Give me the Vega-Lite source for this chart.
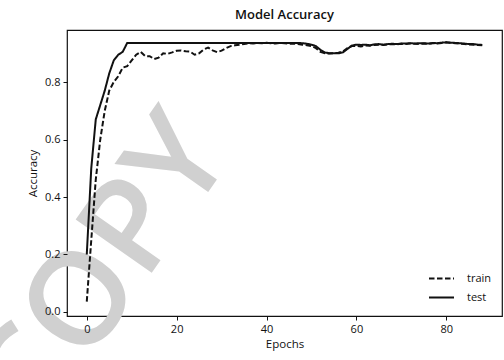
{
  "$schema": "https://vega.github.io/schema/vega-lite/v6.json",
  "autosize": "none",
  "width": 435,
  "height": 286,
  "padding": {"left": 67, "top": 30, "right": 2, "bottom": 44},
  "background": "white",
  "title": {"text": "Model Accuracy", "font": "Open Sans", "fontSize": 13, "fontWeight": 600, "color": "#111", "offset": 8, "anchor": "middle"},
  "config": {
    "view": {"stroke": "#111", "strokeWidth": 1.2},
    "axis": {"grid": false, "domain": false, "tickColor": "#111", "tickSize": 4, "tickWidth": 1, "labelFont": "Open Sans", "labelFontSize": 11, "labelColor": "#111", "titleFont": "Open Sans", "titleFontSize": 11.5, "titleFontWeight": "normal", "titleColor": "#111", "labelPadding": 3}
  },
  "datasets": {
    "acc": [
    {"epoch": 0, "series": "train", "acc": 0.036},
    {"epoch": 1, "series": "train", "acc": 0.25},
    {"epoch": 2, "series": "train", "acc": 0.46},
    {"epoch": 3, "series": "train", "acc": 0.6},
    {"epoch": 4, "series": "train", "acc": 0.7},
    {"epoch": 5, "series": "train", "acc": 0.77},
    {"epoch": 6, "series": "train", "acc": 0.8},
    {"epoch": 7, "series": "train", "acc": 0.82},
    {"epoch": 8, "series": "train", "acc": 0.85},
    {"epoch": 9, "series": "train", "acc": 0.855},
    {"epoch": 10, "series": "train", "acc": 0.875},
    {"epoch": 11, "series": "train", "acc": 0.895},
    {"epoch": 12, "series": "train", "acc": 0.905},
    {"epoch": 13, "series": "train", "acc": 0.89},
    {"epoch": 14, "series": "train", "acc": 0.89},
    {"epoch": 15, "series": "train", "acc": 0.88},
    {"epoch": 16, "series": "train", "acc": 0.885},
    {"epoch": 17, "series": "train", "acc": 0.9},
    {"epoch": 18, "series": "train", "acc": 0.898},
    {"epoch": 19, "series": "train", "acc": 0.903},
    {"epoch": 20, "series": "train", "acc": 0.909},
    {"epoch": 21, "series": "train", "acc": 0.91},
    {"epoch": 22, "series": "train", "acc": 0.907},
    {"epoch": 23, "series": "train", "acc": 0.906},
    {"epoch": 24, "series": "train", "acc": 0.895},
    {"epoch": 25, "series": "train", "acc": 0.9},
    {"epoch": 26, "series": "train", "acc": 0.913},
    {"epoch": 27, "series": "train", "acc": 0.92},
    {"epoch": 28, "series": "train", "acc": 0.91},
    {"epoch": 29, "series": "train", "acc": 0.904},
    {"epoch": 30, "series": "train", "acc": 0.909},
    {"epoch": 31, "series": "train", "acc": 0.918},
    {"epoch": 32, "series": "train", "acc": 0.925},
    {"epoch": 33, "series": "train", "acc": 0.928},
    {"epoch": 34, "series": "train", "acc": 0.93},
    {"epoch": 35, "series": "train", "acc": 0.932},
    {"epoch": 36, "series": "train", "acc": 0.935},
    {"epoch": 37, "series": "train", "acc": 0.934},
    {"epoch": 38, "series": "train", "acc": 0.936},
    {"epoch": 39, "series": "train", "acc": 0.935},
    {"epoch": 40, "series": "train", "acc": 0.937},
    {"epoch": 41, "series": "train", "acc": 0.935},
    {"epoch": 42, "series": "train", "acc": 0.934},
    {"epoch": 43, "series": "train", "acc": 0.936},
    {"epoch": 44, "series": "train", "acc": 0.935},
    {"epoch": 45, "series": "train", "acc": 0.933},
    {"epoch": 46, "series": "train", "acc": 0.934},
    {"epoch": 47, "series": "train", "acc": 0.932},
    {"epoch": 48, "series": "train", "acc": 0.93},
    {"epoch": 49, "series": "train", "acc": 0.928},
    {"epoch": 50, "series": "train", "acc": 0.925},
    {"epoch": 51, "series": "train", "acc": 0.918},
    {"epoch": 52, "series": "train", "acc": 0.905},
    {"epoch": 53, "series": "train", "acc": 0.9},
    {"epoch": 54, "series": "train", "acc": 0.899},
    {"epoch": 55, "series": "train", "acc": 0.9},
    {"epoch": 56, "series": "train", "acc": 0.902},
    {"epoch": 57, "series": "train", "acc": 0.906},
    {"epoch": 58, "series": "train", "acc": 0.918},
    {"epoch": 59, "series": "train", "acc": 0.925},
    {"epoch": 60, "series": "train", "acc": 0.926},
    {"epoch": 61, "series": "train", "acc": 0.924},
    {"epoch": 62, "series": "train", "acc": 0.927},
    {"epoch": 63, "series": "train", "acc": 0.926},
    {"epoch": 64, "series": "train", "acc": 0.929},
    {"epoch": 65, "series": "train", "acc": 0.93},
    {"epoch": 66, "series": "train", "acc": 0.929},
    {"epoch": 67, "series": "train", "acc": 0.931},
    {"epoch": 68, "series": "train", "acc": 0.932},
    {"epoch": 69, "series": "train", "acc": 0.931},
    {"epoch": 70, "series": "train", "acc": 0.933},
    {"epoch": 71, "series": "train", "acc": 0.932},
    {"epoch": 72, "series": "train", "acc": 0.934},
    {"epoch": 73, "series": "train", "acc": 0.933},
    {"epoch": 74, "series": "train", "acc": 0.932},
    {"epoch": 75, "series": "train", "acc": 0.934},
    {"epoch": 76, "series": "train", "acc": 0.933},
    {"epoch": 77, "series": "train", "acc": 0.935},
    {"epoch": 78, "series": "train", "acc": 0.934},
    {"epoch": 79, "series": "train", "acc": 0.936},
    {"epoch": 80, "series": "train", "acc": 0.938},
    {"epoch": 81, "series": "train", "acc": 0.936},
    {"epoch": 82, "series": "train", "acc": 0.935},
    {"epoch": 83, "series": "train", "acc": 0.934},
    {"epoch": 84, "series": "train", "acc": 0.932},
    {"epoch": 85, "series": "train", "acc": 0.931},
    {"epoch": 86, "series": "train", "acc": 0.93},
    {"epoch": 87, "series": "train", "acc": 0.929},
    {"epoch": 88, "series": "train", "acc": 0.928},
    {"epoch": 0, "series": "test", "acc": 0.2},
    {"epoch": 1, "series": "test", "acc": 0.5},
    {"epoch": 2, "series": "test", "acc": 0.67},
    {"epoch": 3, "series": "test", "acc": 0.72},
    {"epoch": 4, "series": "test", "acc": 0.77},
    {"epoch": 5, "series": "test", "acc": 0.83},
    {"epoch": 6, "series": "test", "acc": 0.875},
    {"epoch": 7, "series": "test", "acc": 0.895},
    {"epoch": 8, "series": "test", "acc": 0.905},
    {"epoch": 9, "series": "test", "acc": 0.936},
    {"epoch": 10, "series": "test", "acc": 0.936},
    {"epoch": 11, "series": "test", "acc": 0.936},
    {"epoch": 12, "series": "test", "acc": 0.936},
    {"epoch": 13, "series": "test", "acc": 0.936},
    {"epoch": 14, "series": "test", "acc": 0.936},
    {"epoch": 15, "series": "test", "acc": 0.936},
    {"epoch": 16, "series": "test", "acc": 0.936},
    {"epoch": 17, "series": "test", "acc": 0.936},
    {"epoch": 18, "series": "test", "acc": 0.936},
    {"epoch": 19, "series": "test", "acc": 0.936},
    {"epoch": 20, "series": "test", "acc": 0.936},
    {"epoch": 21, "series": "test", "acc": 0.936},
    {"epoch": 22, "series": "test", "acc": 0.936},
    {"epoch": 23, "series": "test", "acc": 0.936},
    {"epoch": 24, "series": "test", "acc": 0.936},
    {"epoch": 25, "series": "test", "acc": 0.936},
    {"epoch": 26, "series": "test", "acc": 0.936},
    {"epoch": 27, "series": "test", "acc": 0.936},
    {"epoch": 28, "series": "test", "acc": 0.936},
    {"epoch": 29, "series": "test", "acc": 0.936},
    {"epoch": 30, "series": "test", "acc": 0.936},
    {"epoch": 31, "series": "test", "acc": 0.936},
    {"epoch": 32, "series": "test", "acc": 0.936},
    {"epoch": 33, "series": "test", "acc": 0.936},
    {"epoch": 34, "series": "test", "acc": 0.936},
    {"epoch": 35, "series": "test", "acc": 0.936},
    {"epoch": 36, "series": "test", "acc": 0.936},
    {"epoch": 37, "series": "test", "acc": 0.936},
    {"epoch": 38, "series": "test", "acc": 0.936},
    {"epoch": 39, "series": "test", "acc": 0.936},
    {"epoch": 40, "series": "test", "acc": 0.936},
    {"epoch": 41, "series": "test", "acc": 0.936},
    {"epoch": 42, "series": "test", "acc": 0.936},
    {"epoch": 43, "series": "test", "acc": 0.936},
    {"epoch": 44, "series": "test", "acc": 0.936},
    {"epoch": 45, "series": "test", "acc": 0.936},
    {"epoch": 46, "series": "test", "acc": 0.936},
    {"epoch": 47, "series": "test", "acc": 0.936},
    {"epoch": 48, "series": "test", "acc": 0.935},
    {"epoch": 49, "series": "test", "acc": 0.933},
    {"epoch": 50, "series": "test", "acc": 0.93},
    {"epoch": 51, "series": "test", "acc": 0.925},
    {"epoch": 52, "series": "test", "acc": 0.912},
    {"epoch": 53, "series": "test", "acc": 0.903},
    {"epoch": 54, "series": "test", "acc": 0.9},
    {"epoch": 55, "series": "test", "acc": 0.9},
    {"epoch": 56, "series": "test", "acc": 0.9},
    {"epoch": 57, "series": "test", "acc": 0.903},
    {"epoch": 58, "series": "test", "acc": 0.915},
    {"epoch": 59, "series": "test", "acc": 0.927},
    {"epoch": 60, "series": "test", "acc": 0.93},
    {"epoch": 61, "series": "test", "acc": 0.929},
    {"epoch": 62, "series": "test", "acc": 0.93},
    {"epoch": 63, "series": "test", "acc": 0.928},
    {"epoch": 64, "series": "test", "acc": 0.931},
    {"epoch": 65, "series": "test", "acc": 0.932},
    {"epoch": 66, "series": "test", "acc": 0.93},
    {"epoch": 67, "series": "test", "acc": 0.932},
    {"epoch": 68, "series": "test", "acc": 0.933},
    {"epoch": 69, "series": "test", "acc": 0.932},
    {"epoch": 70, "series": "test", "acc": 0.934},
    {"epoch": 71, "series": "test", "acc": 0.934},
    {"epoch": 72, "series": "test", "acc": 0.935},
    {"epoch": 73, "series": "test", "acc": 0.934},
    {"epoch": 74, "series": "test", "acc": 0.935},
    {"epoch": 75, "series": "test", "acc": 0.935},
    {"epoch": 76, "series": "test", "acc": 0.934},
    {"epoch": 77, "series": "test", "acc": 0.936},
    {"epoch": 78, "series": "test", "acc": 0.935},
    {"epoch": 79, "series": "test", "acc": 0.937},
    {"epoch": 80, "series": "test", "acc": 0.938},
    {"epoch": 81, "series": "test", "acc": 0.937},
    {"epoch": 82, "series": "test", "acc": 0.936},
    {"epoch": 83, "series": "test", "acc": 0.935},
    {"epoch": 84, "series": "test", "acc": 0.934},
    {"epoch": 85, "series": "test", "acc": 0.932},
    {"epoch": 86, "series": "test", "acc": 0.932},
    {"epoch": 87, "series": "test", "acc": 0.93},
    {"epoch": 88, "series": "test", "acc": 0.929}
    ],
    "mark": [{"label": "COPY"}]
  },
  "layer": [
    {
      "data": {"name": "mark"},
      "mark": {"type": "text", "font": "Open Sans", "fontSize": 130, "fontWeight": 600, "color": "#d0d0d0", "angle": -55, "align": "center", "baseline": "middle", "clip": false},
      "encoding": {
        "text": {"field": "label", "type": "nominal"},
        "x": {"datum": 4, "type": "quantitative", "axis": {"zindex": 2, "values": [0, 20, 40, 60, 80], "titlePadding": 4}},
        "y": {"datum": 0.14, "type": "quantitative", "axis": {"zindex": 2, "values": [0, 0.2, 0.4, 0.6, 0.8], "format": ".1f", "titlePadding": 6}}
      }
    },
    {
      "data": {"name": "acc"},
      "mark": {"type": "line", "color": "#111", "strokeWidth": 2},
      "encoding": {
        "x": {"field": "epoch", "type": "quantitative", "title": "Epochs",
              "scale": {"domain": [-4.4, 92.4], "nice": false, "zero": false},
              "axis": {"zindex": 2, "values": [0, 20, 40, 60, 80], "titlePadding": 4}},
        "y": {"field": "acc", "type": "quantitative", "title": "Accuracy",
              "scale": {"domain": [-0.014, 0.981], "nice": false, "zero": false},
              "axis": {"zindex": 2, "values": [0, 0.2, 0.4, 0.6, 0.8], "format": ".1f", "titlePadding": 6}},
        "strokeDash": {"field": "series", "type": "nominal",
              "scale": {"domain": ["train", "test"], "range": [[5.5, 2.5], [1, 0]]},
              "legend": {"title": null, "orient": "none", "legendX": 361, "legendY": 235, "symbolType": "stroke", "symbolSize": 625, "symbolStrokeWidth": 2, "symbolStrokeColor": "#111", "labelFont": "Open Sans", "labelFontSize": 11, "labelColor": "#111", "labelOffset": 12, "rowPadding": -6, "padding": 0}}
      }
    }
  ]
}
